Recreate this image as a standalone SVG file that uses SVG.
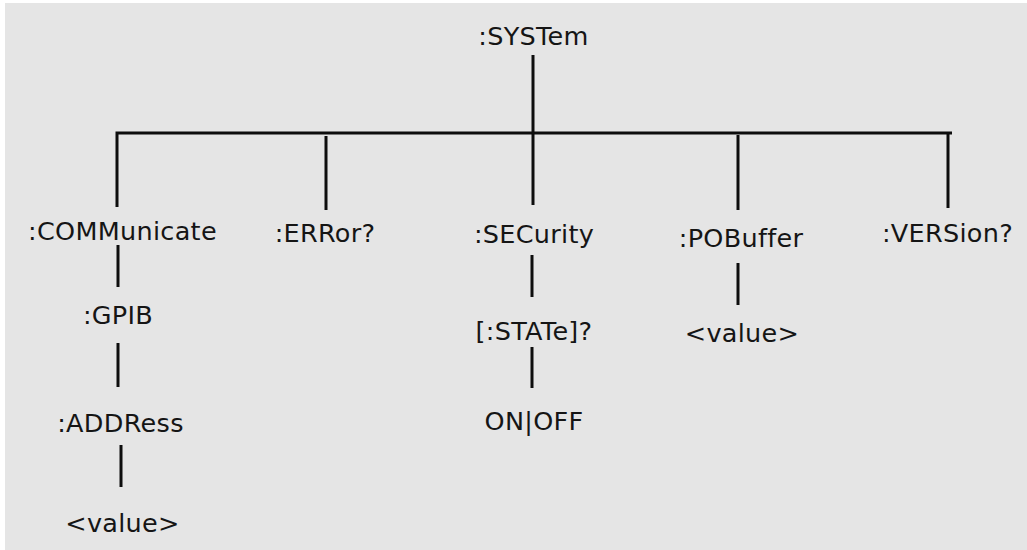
<svg xmlns="http://www.w3.org/2000/svg" width="1027" height="550" viewBox="0 0 1027 550">
<style>
  text { font-family: "DejaVu Sans", Verdana, sans-serif; font-size: 25.5px; letter-spacing: 0.3px; fill: #151515; text-anchor: middle; }
  .c { stroke: #0d0d0d; stroke-width: 3; fill: none; }
</style>
<rect x="0" y="0" width="1027" height="550" fill="#ffffff"/>
<rect x="5" y="3" width="1022" height="547" fill="#e5e5e5"/>
<g id="connectors">
  <line class="c" x1="533" y1="55" x2="533" y2="205"/>
  <path class="c" d="M117 207 V133 H952"/>
  <line class="c" x1="326" y1="136" x2="326" y2="210"/>
  <line class="c" x1="738" y1="135" x2="738" y2="210"/>
  <line class="c" x1="948" y1="133" x2="948" y2="208"/>
  <line class="c" x1="118" y1="245" x2="118" y2="287"/>
  <line class="c" x1="118" y1="343" x2="118" y2="387"/>
  <line class="c" x1="121" y1="445" x2="121" y2="487"/>
  <line class="c" x1="532" y1="255" x2="532" y2="297"/>
  <line class="c" x1="532" y1="347" x2="532" y2="388"/>
  <line class="c" x1="738" y1="263" x2="738" y2="305"/>
</g>
<g id="system"><text x="533.5" y="45">:SYSTem</text></g>
<g id="communicate"><text x="122.5" y="240">:COMMunicate</text></g>
<g id="gpib"><text x="118" y="324">:GPIB</text></g>
<g id="address"><text x="120.5" y="432">:ADDRess</text></g>
<g id="address-value"><text x="122.5" y="532">&lt;value&gt;</text></g>
<g id="error"><text x="325" y="242">:ERRor?</text></g>
<g id="security"><text x="534" y="243">:SECurity</text></g>
<g id="state"><text x="534" y="340">[:STATe]?</text></g>
<g id="onoff"><text x="534" y="430">ON|OFF</text></g>
<g id="pobuffer"><text x="741" y="247">:POBuffer</text></g>
<g id="pobuffer-value"><text x="742" y="342">&lt;value&gt;</text></g>
<g id="version"><text x="947.5" y="242">:VERSion?</text></g>
</svg>
